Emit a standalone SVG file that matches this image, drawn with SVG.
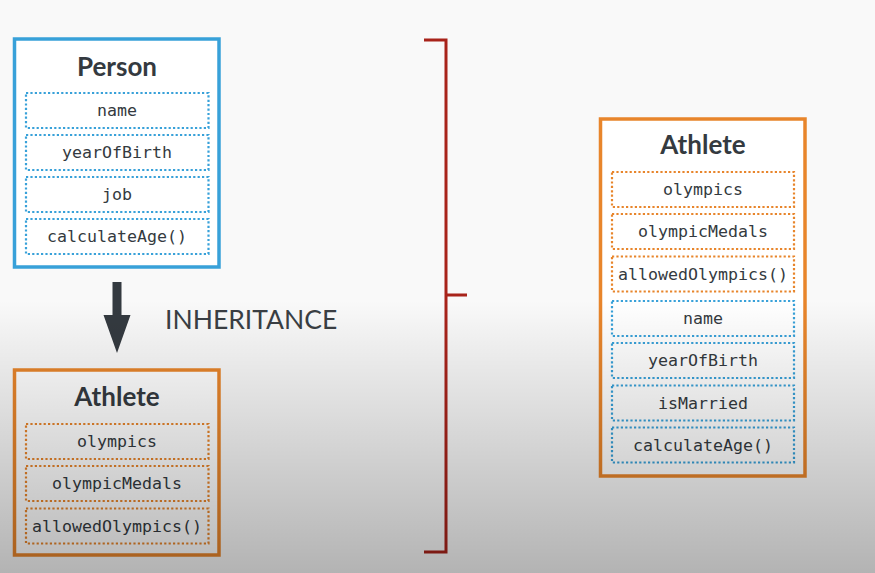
<svg xmlns="http://www.w3.org/2000/svg" width="875" height="573" viewBox="0 0 875 573">
<defs>
<linearGradient id="shade" x1="0" y1="0" x2="0" y2="1">
<stop offset="0" stop-color="#000" stop-opacity="0"/>
<stop offset="1" stop-color="#000" stop-opacity="0.28"/>
</linearGradient>
<style>
.box{fill:#fff;stroke-width:3.5}
.blue{stroke:#38a1d9}
.orange{stroke:#e8852b}
.field{fill:none;stroke-width:2.2;stroke-dasharray:2.2 2.2}
.title{font-family:Lato,"Liberation Sans",sans-serif;font-weight:700;font-size:26px;fill:#343a40;text-anchor:middle}
.mono{font-family:"DejaVu Sans Mono","Liberation Mono",monospace;font-size:16.6px;fill:#343a40;text-anchor:middle}
.label{font-family:Lato,"Liberation Sans",sans-serif;font-size:26.5px;fill:#3a3f44}
.bracket{fill:none;stroke:#a8231a;stroke-width:3}
</style>
</defs>
<rect x="0" y="0" width="875" height="573" fill="#f9f9f9"/>

<g id="person">
<rect class="box blue" x="14.5" y="39" width="204.5" height="228"/>
<text class="title" x="117" y="75.5">Person</text>
<rect class="field blue" x="26" y="93" width="182.5" height="35"/>
<text class="mono" x="117" y="116">name</text>
<rect class="field blue" x="26" y="135" width="182.5" height="35"/>
<text class="mono" x="117" y="158">yearOfBirth</text>
<rect class="field blue" x="26" y="177" width="182.5" height="35"/>
<text class="mono" x="117" y="200">job</text>
<rect class="field blue" x="26" y="219" width="182.5" height="35"/>
<text class="mono" x="117" y="242">calculateAge()</text>
</g>

<g id="athlete-child">
<rect class="box orange" x="14.5" y="370" width="204.5" height="185"/>
<text class="title" x="117" y="406">Athlete</text>
<rect class="field orange" x="26" y="424" width="182.5" height="35"/>
<text class="mono" x="117" y="447">olympics</text>
<rect class="field orange" x="26" y="466" width="182.5" height="35"/>
<text class="mono" x="117" y="489">olympicMedals</text>
<rect class="field orange" x="26" y="508.5" width="182.5" height="35"/>
<text class="mono" x="117" y="531.5">allowedOlympics()</text>
</g>

<g id="athlete-full">
<rect class="box orange" x="600.5" y="119" width="204.5" height="357"/>
<text class="title" x="703" y="154">Athlete</text>
<rect class="field orange" x="612" y="172" width="182" height="35"/>
<text class="mono" x="703" y="195">olympics</text>
<rect class="field orange" x="612" y="214" width="182" height="35"/>
<text class="mono" x="703" y="237">olympicMedals</text>
<rect class="field orange" x="612" y="256.5" width="182" height="35"/>
<text class="mono" x="703" y="279.5">allowedOlympics()</text>
<rect class="field blue" x="612" y="301" width="182" height="35"/>
<text class="mono" x="703" y="324">name</text>
<rect class="field blue" x="612" y="343" width="182" height="35"/>
<text class="mono" x="703" y="366">yearOfBirth</text>
<rect class="field blue" x="612" y="385.5" width="182" height="35"/>
<text class="mono" x="703" y="408.5">isMarried</text>
<rect class="field blue" x="612" y="427.5" width="182" height="35"/>
<text class="mono" x="703" y="450.5">calculateAge()</text>
</g>

<g id="connectors">
<path d="M112.5 282 H121.5 V315 H130.5 L117 353 L103.5 315 H112.5 Z" fill="#343a40"/>
<text class="label" x="165" y="329">INHERITANCE</text>
<path class="bracket" d="M424 40 H446 V552 H424 M446 295 H467"/>
</g>

<rect x="0" y="300" width="875" height="273" fill="url(#shade)" pointer-events="none"/>
</svg>
